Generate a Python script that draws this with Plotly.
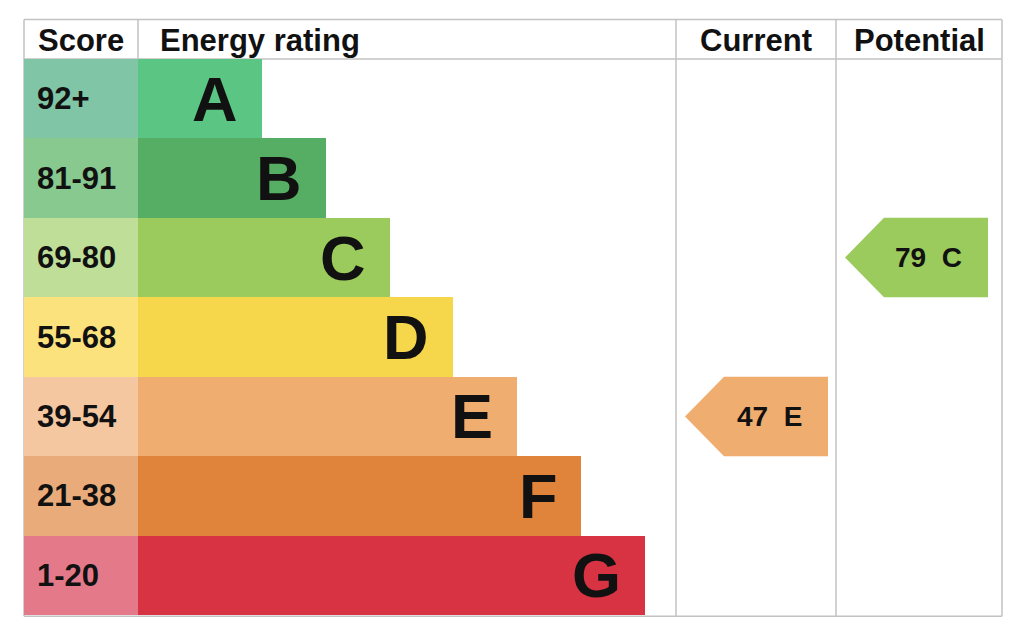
import plotly.graph_objects as go

W, H = 1024, 627

# data
bands = ["A", "B", "C", "D", "E", "F", "G"]
score_ranges = ["92+", "81-91", "69-80", "55-68", "39-54", "21-38", "1-20"]
band_floor = [92, 81, 69, 55, 39, 21, 1]
bar_len = [124, 188, 252, 315, 379, 443, 507]
current_score = 47
potential_score = 79

bar_colors = ["#5bc584", "#55ae63", "#9bcb5c", "#f6d64b", "#efad70", "#df843a", "#d73342"]
score_colors = ["#80c5a6", "#88c98f", "#bfdf98", "#fce27c", "#f5c7a1", "#e9ab79", "#e4798a"]

# layout (page pixels); the page body adds an 8px margin
OFF = 8
x_left, x_score, x_cur, x_pot, x_right = 24, 138, 676, 836, 1002
y_top, y_head, y_bot = 19, 58.5, 616
grid = "#c2c2c2"
FONT = "Liberation Sans, Arial, Helvetica, sans-serif"

plot_top, plot_bot = 58.5, 615.5


def py(p):
    # page pixel row -> paper y
    return (plot_bot - p) / (plot_bot - plot_top)


def band_of(score):
    for i, lo in enumerate(band_floor):
        if score >= lo:
            return i
    return len(bands) - 1


rows = list(range(len(bands)))

fig = go.Figure()

fig.add_trace(go.Bar(
    y=rows, x=[x_score - x_left] * len(rows), base=x_left,
    orientation="h", width=1,
    marker=dict(color=score_colors, line=dict(width=0)),
    hoverinfo="skip", showlegend=False,
))

fig.add_trace(go.Bar(
    y=rows, x=bar_len, base=x_score,
    orientation="h", width=1,
    marker=dict(color=bar_colors, line=dict(width=0)),
    hoverinfo="skip", showlegend=False,
))

annotations = []

for i in rows:
    annotations.append(dict(
        x=x_score + bar_len[i], y=i, xref="x", yref="y",
        text="<b>%s</b>" % bands[i], showarrow=False,
        xanchor="right", yanchor="middle", xshift=-22,
        font=dict(family=FONT, size=63, color="#111111"),
    ))
    annotations.append(dict(
        x=x_left, y=i, xref="x", yref="y",
        text="<b>%s</b>" % score_ranges[i], showarrow=False,
        xanchor="left", yanchor="middle", xshift=11,
        font=dict(family=FONT, size=31, color="#111111"),
    ))


def add_arrow(score, col_l, col_r):
    i = band_of(score)
    tip = col_l + 9
    notch = tip + 39
    right = tip + 143
    fig.add_trace(go.Scatter(
        x=[tip, notch, right, right, notch, tip],
        y=[i, i - 0.5, i - 0.5, i + 0.5, i + 0.5, i],
        mode="lines", fill="toself", fillcolor=bar_colors[i],
        line=dict(width=0, color=bar_colors[i]),
        hoverinfo="skip", showlegend=False,
    ))
    annotations.append(dict(
        x=right, y=i, xref="x", yref="y",
        text="<b>%d\u00a0\u00a0%s</b>" % (score, bands[i]), showarrow=False,
        xanchor="right", yanchor="middle", xshift=-24,
        font=dict(family=FONT, size=28, color="#111111"),
    ))


add_arrow(current_score, x_cur, x_pot)
add_arrow(potential_score, x_pot, x_right)

# header labels
head_y = py(40)
headers = [
    ("Score", (x_left + x_score) / 2, "center", 0),
    ("Energy rating", x_score, "left", 20),
    ("Current", (x_cur + x_pot) / 2, "center", 0),
    ("Potential", (x_pot + x_right) / 2, "center", 0),
]
for txt, hx, anchor, shift in headers:
    annotations.append(dict(
        x=hx, y=head_y, xref="x", yref="paper",
        text="<b>%s</b>" % txt, showarrow=False,
        xanchor=anchor, yanchor="middle", xshift=shift,
        font=dict(family=FONT, size=31, color="#111111"),
    ))

# table lines
shapes = []


def line(x0, y0, x1, y1):
    shapes.append(dict(
        type="line", xref="x", yref="paper",
        x0=x0, x1=x1, y0=py(y0), y1=py(y1),
        line=dict(color=grid, width=1.5), layer="below",
    ))


line(x_left, y_top, x_right, y_top)
line(x_left, y_head, x_right, y_head)
line(x_left, y_bot + 0.8, x_right, y_bot + 0.8)
for vx in [x_left, x_cur, x_pot, x_right]:
    line(vx, y_top, vx, y_bot + 0.8)
line(x_score, y_top, x_score, y_head)

fig.update_layout(
    width=W, height=H,
    margin=dict(l=0, r=0, t=plot_top - OFF, b=H - (plot_bot - OFF)),
    paper_bgcolor="white", plot_bgcolor="white",
    xaxis=dict(range=[OFF, W + OFF], visible=False, fixedrange=True),
    yaxis=dict(range=[len(bands) - 0.5, -0.5], visible=False, fixedrange=True),
    barmode="overlay",
    bargap=0,
    annotations=annotations,
    shapes=shapes,
    showlegend=False,
)

fig.write_html("out.html", config={"displayModeBar": False})
